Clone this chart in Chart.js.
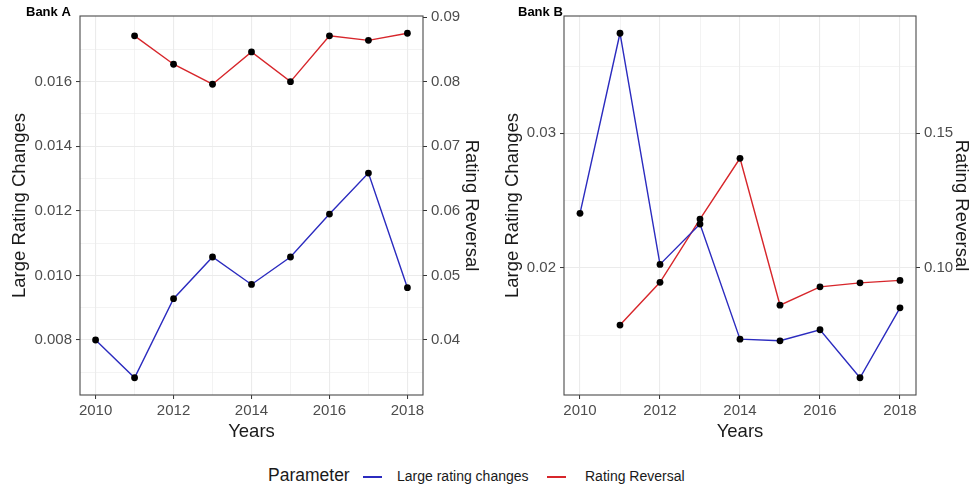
<!DOCTYPE html>
<html>
<head>
<meta charset="utf-8">
<script src="https://cdn.jsdelivr.net/npm/chart.js@4.4.1/dist/chart.umd.min.js"></script>
<style>
  html, body { margin: 0; padding: 0; background: #fff; }
  #wrap { position: relative; width: 972px; height: 486px; font-family: "Liberation Sans", Arial, sans-serif; }
  .panel { position: absolute; top: 0; }
  .leg { position: absolute; white-space: nowrap; color: #1a1a1a; line-height: 1; }
  .key { position: absolute; height: 1.5px; width: 19px; }
</style>
</head>
<body>
<div id="wrap">
  <canvas id="bankA" class="panel" width="486" height="450" style="left:0"></canvas>
  <canvas id="bankB" class="panel" width="486" height="450" style="left:486px"></canvas>
  <span class="leg" style="left:268px; top:467px; font-size:17.5px;">Parameter</span>
  <div class="key" style="left:363px; top:476px; background:#2B2BBF;"></div>
  <span class="leg" style="left:397px; top:469px; font-size:14px;">Large rating changes</span>
  <div class="key" style="left:547px; top:476px; background:#D7262B;"></div>
  <span class="leg" style="left:585px; top:469px; font-size:14px;">Rating Reversal</span>
</div>
<script>
// values
const years = [2010, 2011, 2012, 2013, 2014, 2015, 2016, 2017, 2018];

const bankALarge    = [0.0080, 0.00683, 0.00928, 0.01057, 0.00972, 0.01057, 0.0119, 0.01317, 0.00962];
const bankAReversal = [null, 0.0871, 0.0827, 0.0796, 0.0846, 0.0800, 0.0871, 0.0864, 0.0875];

const bankBLarge    = [0.02405, 0.03744, 0.02025, 0.02325, 0.01469, 0.01457, 0.01539, 0.01182, 0.01702];
const bankBReversal = [null, 0.0787, 0.0946, 0.1181, 0.1407, 0.0861, 0.0929, 0.0944, 0.0953];

// tick labels
const xTicks = [2010, 2012, 2014, 2016, 2018];
const bankALeftTicks   = [0.008, 0.010, 0.012, 0.014, 0.016];
const bankALeftLabels  = ['0.008', '0.010', '0.012', '0.014', '0.016'];
const bankARightTicks  = [0.04, 0.05, 0.06, 0.07, 0.08, 0.09];
const bankARightLabels = ['0.04', '0.05', '0.06', '0.07', '0.08', '0.09'];
const bankBLeftTicks   = [0.02, 0.03];
const bankBLeftLabels  = ['0.02', '0.03'];
const bankBRightTicks  = [0.10, 0.15];
const bankBRightLabels = ['0.10', '0.15'];

const ratio = 5; // secondary axis = primary * 5

const BLUE = '#2B2BBF';
const RED = '#D7262B';
const GRID = '#EBEBEB';
const TICK_TXT = '#4D4D4D';

// major ticks + minor ticks halfway between (like ggplot)
function withMinor(majors, labels, min, max) {
  const step = majors.length > 1 ? majors[1] - majors[0] : 1;
  const out = [];
  for (let i = -1; i < majors.length; i++) {
    const v = i < 0 ? majors[0] : majors[i];
    if (i >= 0 && v >= min && v <= max) out.push({ value: v, lab: labels[i] });
    const m = i < 0 ? majors[0] - step / 2 : v + step / 2;
    if (m >= min && m <= max) out.push({ value: m, lab: '' });
  }
  return out.sort((a, b) => a.value - b.value);
}

function expand(lo, hi) {
  const d = (hi - lo) * 0.05;
  return [lo - d, hi + d];
}

function pts(vals) {
  return years.map((yr, i) => ({ x: yr, y: vals[i] }));
}

const panelFrame = {
  id: 'panelFrame',
  beforeDatasetsDraw(chart, args, opts) {
    const { ctx, chartArea: a } = chart;
    ctx.save();
    ctx.strokeStyle = '#4a4a4a';
    ctx.lineWidth = 1.1;
    ctx.strokeRect(a.left, a.top, a.right - a.left, a.bottom - a.top);
    ctx.fillStyle = '#000';
    ctx.font = 'bold 13px "Liberation Sans", Arial, sans-serif';
    ctx.textBaseline = 'alphabetic';
    ctx.fillText(opts.text, opts.x, a.top);
    ctx.restore();
  }
};

function makePanel(id, p) {
  const vals = p.large.concat(p.reversal.filter(v => v != null).map(v => v / ratio));
  const [yMin, yMax] = expand(Math.min(...vals), Math.max(...vals));
  const [xMin, xMax] = expand(years[0], years[years.length - 1]);

  const xAll = withMinor(xTicks, xTicks.map(String), xMin, xMax);
  const leftAll = withMinor(p.leftTicks, p.leftLabels, yMin, yMax);
  const rightAll = p.rightTicks.map((v, i) => ({ value: v, lab: p.rightLabels[i] }))
    .filter(t => t.value >= yMin * ratio && t.value <= yMax * ratio);

  const tickFont = { family: '"Liberation Sans", Arial, sans-serif', size: 15 };
  const titleFont = { family: '"Liberation Sans", Arial, sans-serif', size: 18.5 };

  new Chart(document.getElementById(id), {
    type: 'line',
    data: {
      datasets: [
        {
          label: 'Large rating changes',
          data: pts(p.large),
          yAxisID: 'y',
          borderColor: BLUE,
          borderWidth: 1.4,
          pointRadius: 3.4,
          pointBackgroundColor: '#000',
          pointBorderColor: '#000',
          pointBorderWidth: 0,
          tension: 0
        },
        {
          label: 'Rating Reversal',
          data: pts(p.reversal),
          yAxisID: 'y2',
          borderColor: RED,
          borderWidth: 1.4,
          pointRadius: 3.4,
          pointBackgroundColor: '#000',
          pointBorderColor: '#000',
          pointBorderWidth: 0,
          tension: 0
        }
      ]
    },
    options: {
      responsive: false,
      animation: false,
      devicePixelRatio: 1,
      layout: { padding: { top: 16, left: 0, right: 0, bottom: 0 } },
      plugins: {
        legend: { display: false },
        tooltip: { enabled: false },
        panelFrame: { text: p.title, x: p.titleX }
      },
      scales: {
        x: {
          type: 'linear',
          min: xMin,
          max: xMax,
          afterBuildTicks: s => { s.ticks = xAll.map(t => ({ ...t })); },
          afterFit: s => { s.height = 55; },
          ticks: {
            autoSkip: false, maxRotation: 0, padding: 3,
            color: TICK_TXT, font: tickFont,
            callback: (v, i, t) => t[i].lab
          },
          grid: {
            color: GRID,
            lineWidth: c => (c.tick && c.tick.lab ? 1.1 : 0.6),
            tickLength: 4,
            tickWidth: 1,
            tickColor: c => (c.tick && c.tick.lab ? '#333' : 'rgba(0,0,0,0)')
          },
          border: { display: false },
          title: { display: true, text: 'Years', color: '#1a1a1a', font: titleFont, padding: { top: 0, bottom: 7 } }
        },
        y: {
          type: 'linear',
          position: 'left',
          min: yMin,
          max: yMax,
          afterBuildTicks: s => { s.ticks = leftAll.map(t => ({ ...t })); },
          afterFit: s => { s.width = p.leftWidth; },
          ticks: {
            autoSkip: false, padding: 4,
            color: TICK_TXT, font: tickFont,
            callback: (v, i, t) => t[i].lab
          },
          grid: {
            color: GRID,
            lineWidth: c => (c.tick && c.tick.lab ? 1.1 : 0.6),
            tickLength: 4,
            tickWidth: 1,
            tickColor: c => (c.tick && c.tick.lab ? '#333' : 'rgba(0,0,0,0)')
          },
          border: { display: false },
          title: { display: true, text: 'Large Rating Changes', color: '#1a1a1a', font: titleFont, padding: { top: p.leftTitlePad, bottom: 0 } }
        },
        y2: {
          type: 'linear',
          position: 'right',
          min: yMin * ratio,
          max: yMax * ratio,
          afterBuildTicks: s => { s.ticks = rightAll.map(t => ({ ...t })); },
          afterFit: s => { s.width = p.rightWidth; },
          ticks: {
            autoSkip: false, padding: 4,
            color: TICK_TXT, font: tickFont,
            callback: (v, i, t) => t[i].lab
          },
          grid: {
            drawOnChartArea: false,
            tickLength: 4,
            tickWidth: 1,
            tickColor: '#333'
          },
          border: { display: false },
          title: { display: true, text: 'Rating Reversal', color: '#1a1a1a', font: titleFont, padding: { top: p.rightTitlePad, bottom: 0 } }
        }
      }
    },
    plugins: [panelFrame]
  });
}

makePanel('bankA', {
  title: 'Bank A', titleX: 26,
  large: bankALarge, reversal: bankAReversal,
  leftTicks: bankALeftTicks, leftLabels: bankALeftLabels,
  rightTicks: bankARightTicks, rightLabels: bankARightLabels,
  leftWidth: 80, rightWidth: 63, leftTitlePad: 9, rightTitlePad: 4
});

makePanel('bankB', {
  title: 'Bank B', titleX: 32,
  large: bankBLarge, reversal: bankBReversal,
  leftTicks: bankBLeftTicks, leftLabels: bankBLeftLabels,
  rightTicks: bankBRightTicks, rightLabels: bankBRightLabels,
  leftWidth: 78, rightWidth: 56, leftTitlePad: 16, rightTitlePad: 0
});
</script>
</body>
</html>
